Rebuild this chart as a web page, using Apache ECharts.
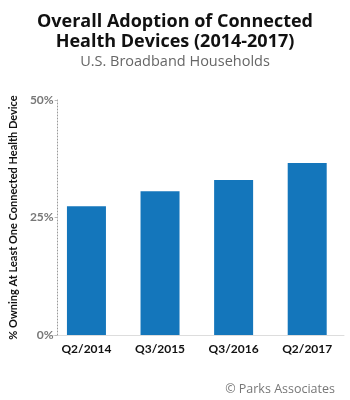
<!DOCTYPE html>
<html>
<head>
<meta charset="utf-8">
<script src="https://cdn.jsdelivr.net/npm/echarts@6/dist/echarts.min.js"></script>
<style>
  html, body { margin: 0; padding: 0; background: #fff; }
</style>
</head>
<body>
<div id="chart" style="width: 350px; height: 400px"></div>
<script>
const categories = ['Q2/2014', 'Q3/2015', 'Q3/2016', 'Q2/2017']
const adoption = [27.4, 30.6, 33.0, 36.6]
const yTicks = [0, 25, 50]

const chart = echarts.init(document.getElementById('chart'))

const option = {
  title: [
    {
      text: 'Overall Adoption of Connected\nHealth Devices (2014-2017)',
      left: 'center',
      top: 7,
      textStyle: {
        fontFamily: 'Open Sans',
        fontWeight: 'bold',
        fontSize: 18,
        lineHeight: 20,
        color: '#111'
      }
    },
    {
      text: 'U.S. Broadband Households',
      left: 'center',
      top: 49,
      textStyle: {
        fontFamily: 'Open Sans',
        fontWeight: 'normal',
        fontSize: 14.5,
        color: '#666'
      }
    },
    {
      text: '© Parks Associates',
      right: 10,
      top: 378,
      textStyle: {
        fontFamily: 'Open Sans',
        fontWeight: 'normal',
        fontSize: 12.5,
        color: '#777'
      }
    }
  ],
  grid: {
    left: 46,
    right: 6,
    top: 100,
    bottom: 65
  },
  xAxis: {
    type: 'category',
    data: categories,
    axisTick: { show: false },
    axisLine: { lineStyle: { color: '#ddd', width: 1 } },
    axisLabel: {
      fontFamily: 'Lato',
      fontWeight: 'bold',
      fontSize: 12,
      color: '#111',
      margin: 8
    }
  },
  yAxis: {
    type: 'value',
    min: yTicks[0],
    max: yTicks[yTicks.length - 1],
    interval: 25,
    offset: -8,
    name: '% Owning At Least One Connected Health Device',
    nameLocation: 'middle',
    nameGap: 37,
    nameRotate: 90,
    nameTextStyle: {
      fontFamily: 'Lato',
      fontWeight: 'bold',
      fontSize: 11,
      color: '#111'
    },
    axisLine: { show: true, lineStyle: { color: '#999', type: [1, 2], width: 1 } },
    axisTick: { show: true, length: 3, lineStyle: { color: '#bbb' } },
    splitLine: { show: false },
    axisLabel: {
      formatter: '{value}%',
      fontFamily: 'Lato',
      fontWeight: 'bold',
      fontSize: 12,
      color: '#777',
      margin: 4
    }
  },
  series: [
    {
      type: 'bar',
      data: adoption,
      barWidth: 39,
      itemStyle: {
        color: '#1476bb'
      },
      silent: true
    }
  ]
}

chart.setOption(option)
</script>
</body>
</html>
